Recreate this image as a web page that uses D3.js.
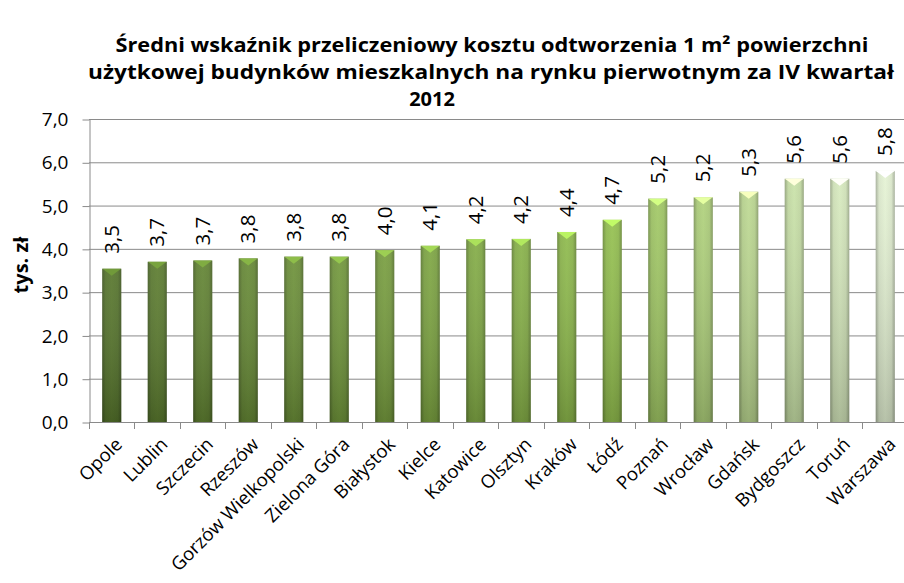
<!DOCTYPE html>
<html>
<head>
<meta charset="utf-8">
<script src="https://cdn.jsdelivr.net/npm/d3@7"></script>
<style>
  body { margin: 0; background: #fff; }
  text { font-family: "Open Sans", "DejaVu Sans", sans-serif; fill: #000; }
</style>
</head>
<body>
<script>
// chart data
var categories = ["Opole", "Lublin", "Szczecin", "Rzeszów", "Gorzów Wielkopolski", "Zielona Góra",
  "Białystok", "Kielce", "Katowice", "Olsztyn", "Kraków", "Łódź", "Poznań", "Wrocław",
  "Gdańsk", "Bydgoszcz", "Toruń", "Warszawa"];
var values = [3.54, 3.70, 3.73, 3.78, 3.82, 3.82, 3.97, 4.07, 4.22, 4.23, 4.39, 4.67, 5.16, 5.19, 5.32, 5.62, 5.62, 5.80];
var yTicks = [0, 1, 2, 3, 4, 5, 6, 7];
var titleLines = ["Średni wskaźnik przeliczeniowy kosztu odtworzenia 1 m² powierzchni", "użytkowej budynków mieszkalnych na rynku pierwotnym za IV kwartał", "2012"];
var yLabel = "tys. zł";

var svgWidth = 904;
var svgHeight = 583;

var plot = { left: 89, right: 908, top: 119, bottom: 422 };

var svg = d3.select("body")
  .append("svg")
    .attr("width", svgWidth)
    .attr("height", svgHeight);

var defs = svg.append("defs");

var y = d3.scaleLinear()
  .domain([0, 7])
  .range([plot.bottom, plot.top]);

var x = d3.scaleBand()
  .domain(categories)
  .range([plot.left, plot.right])
  .paddingInner(0.58)
  .paddingOuter(0.29);

var fmt = function(d) { return d3.format(".1f")(d).replace(".", ","); };

// bar colour runs from dark olive to pale green
var color = d3.scaleLinear()
  .domain([0, 11, 17])
  .range(["#52702a", "#8cb64b", "#d9e6c9"]);

// gridlines
svg.append("g")
  .selectAll("line")
  .data(yTicks.slice(1))
  .enter()
  .append("line")
    .attr("x1", plot.left)
    .attr("x2", plot.right)
    .attr("y1", d => y(d) + 0.5)
    .attr("y2", d => y(d) + 0.5)
    .attr("stroke", "#8a8a8a")
    .attr("stroke-width", 1);

// y axis
var yAxis = svg.append("g")
  .attr("transform", "translate(" + (plot.left + 0.5) + ",0.5)")
  .call(d3.axisLeft(y).tickValues(yTicks).tickFormat(fmt).tickSize(7).tickPadding(14).tickSizeOuter(0));
yAxis.select(".domain").attr("stroke", "#8a8a8a");
yAxis.selectAll(".tick line").attr("stroke", "#8a8a8a");
yAxis.selectAll(".tick text")
  .attr("font-size", 19)
  .style("font-family", "'Open Sans', sans-serif")
  .attr("fill", "#000");

// x axis baseline + ticks between categories
var gap = x.step() - x.bandwidth();
var bounds = categories.map(d => x(d) - gap / 2);
bounds.push(x(categories[categories.length - 1]) + x.bandwidth() + gap / 2);

svg.append("line")
  .attr("x1", plot.left)
  .attr("x2", plot.right)
  .attr("y1", y(0) + 0.5)
  .attr("y2", y(0) + 0.5)
  .attr("stroke", "#8a8a8a");

svg.append("g")
  .selectAll("line")
  .data(bounds)
  .enter()
  .append("line")
    .attr("x1", d => Math.round(d) + 0.5)
    .attr("x2", d => Math.round(d) + 0.5)
    .attr("y1", y(0))
    .attr("y2", y(0) + 7)
    .attr("stroke", "#8a8a8a");

// gradients per bar
categories.forEach(function(c, i) {
  var base = d3.color(color(i));
  var g = defs.append("linearGradient")
    .attr("id", "barGrad" + i)
    .attr("x1", 0).attr("x2", 1).attr("y1", 0).attr("y2", 0);
  g.append("stop").attr("offset", "0%").attr("stop-color", base.darker(0.8));
  g.append("stop").attr("offset", "18%").attr("stop-color", base);
  g.append("stop").attr("offset", "50%").attr("stop-color", base.brighter(0.15));
  g.append("stop").attr("offset", "82%").attr("stop-color", base);
  g.append("stop").attr("offset", "100%").attr("stop-color", base.darker(0.8));
});

var shade = defs.append("linearGradient")
  .attr("id", "shade")
  .attr("x1", 0).attr("x2", 0).attr("y1", 0).attr("y2", 1);
shade.append("stop").attr("offset", "0%").attr("stop-color", "#fff").attr("stop-opacity", 0.08);
shade.append("stop").attr("offset", "100%").attr("stop-color", "#000").attr("stop-opacity", 0.2);

// bars
var bars = svg.append("g")
  .selectAll("g")
  .data(values)
  .enter()
  .append("g");

bars.append("rect")
  .attr("x", (d, i) => x(categories[i]))
  .attr("y", d => y(d))
  .attr("width", x.bandwidth())
  .attr("height", d => y(0) - y(d))
  .style("fill", (d, i) => "url(#barGrad" + i + ")");

bars.append("rect")
  .attr("x", (d, i) => x(categories[i]))
  .attr("y", d => y(d))
  .attr("width", x.bandwidth())
  .attr("height", d => y(0) - y(d))
  .style("fill", "url(#shade)");

// bevel cap on top of each bar
bars.append("path")
  .attr("d", function(d, i) {
    var x0 = x(categories[i]), x1 = x0 + x.bandwidth(), t = y(d);
    return "M" + x0 + "," + t + "L" + x1 + "," + t + "L" + (x1 - 3) + "," + (t + 2) +
      "L" + ((x0 + x1) / 2) + "," + (t + 7) + "L" + (x0 + 3) + "," + (t + 2) + "Z";
  })
  .style("fill", (d, i) => d3.color(color(i)).brighter(0.9));

// value labels
svg.append("g")
  .selectAll("text")
  .data(values)
  .enter()
  .append("text")
    .attr("transform", (d, i) => "translate(" + (x(categories[i]) + x.bandwidth() / 2) + "," + (y(d) - 15) + ") rotate(-90)")
    .attr("dy", "0.35em")
    .attr("font-size", 20.5)
    .text(fmt);

// category labels
svg.append("g")
  .selectAll("text")
  .data(categories)
  .enter()
  .append("text")
    .attr("transform", d => "translate(" + (x(d) + x.bandwidth() / 2 + 7) + "," + (y(0) + 19) + ") rotate(-45)")
    .attr("text-anchor", "end")
    .attr("dy", "0.35em")
    .attr("font-size", 18.5)
    .text(d => d);

// y axis title
svg.append("text")
  .attr("transform", "translate(21,265) rotate(-90)")
  .attr("text-anchor", "middle")
  .attr("dy", "0.35em")
  .attr("font-size", 20)
  .attr("font-weight", "bold")
  .text(yLabel);

// title, three lines
var title = svg.append("g").attr("font-weight", "bold").attr("text-anchor", "middle").attr("font-size", 20);
title.append("text").attr("x", 492).attr("y", 52)
  .attr("textLength", 753).attr("lengthAdjust", "spacingAndGlyphs")
  .text(titleLines[0]);
title.append("text").attr("x", 491).attr("y", 79)
  .attr("textLength", 806).attr("lengthAdjust", "spacingAndGlyphs")
  .text(titleLines[1]);
title.append("text").attr("x", 432).attr("y", 106).text(titleLines[2]);
</script>
</body>
</html>
